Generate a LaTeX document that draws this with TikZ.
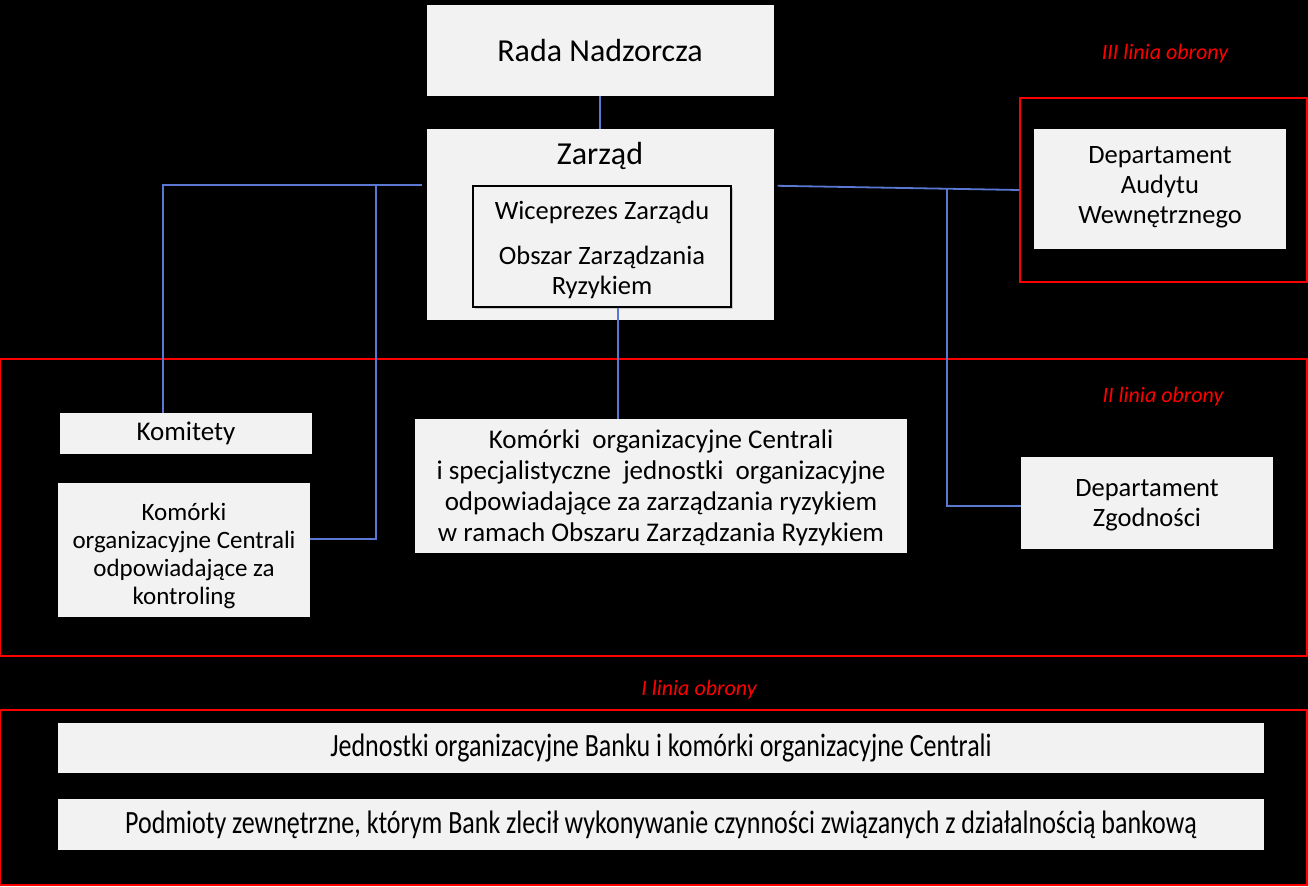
\documentclass[tikz,border=0pt]{standalone}
\usepackage{fontspec}
\setmainfont{Carlito}
\newfontfamily\condfont[FakeStretch=0.8]{Carlito}
\usetikzlibrary{calc,shadows}
\definecolor{boxgray}{HTML}{F2F2F2}
\definecolor{connblue}{HTML}{5A78D2}
\definecolor{framered}{HTML}{FF0000}
\newcommand\lowerblock[2]{\raisebox{-#1}[\height][\depth]{\begin{tabular}{@{}c@{}}#2\end{tabular}}}
\tikzset{
  box/.style={fill=boxgray, inner sep=0pt, align=center, text=black,
    font=\fontsize{26.5}{30}\selectfont},
  frame/.style={draw=framered, line width=1.3pt, inner sep=0pt},
  conn/.style={draw=connblue, line width=1.8pt},
  linelabel/.style={text=framered, font=\fontsize{22}{24}\selectfont\itshape, inner sep=0pt},
}
\begin{document}
\begin{tikzpicture}[x=1pt,y=-1pt]
\useasboundingbox (0,0) rectangle (1308,886);
\fill[black] (0,0) rectangle (1308,886);

% frames
\node[frame, minimum width=287, minimum height=184] (frame3) at (1163.5,190) {};
\node[frame, minimum width=1307, minimum height=297] (frame2) at (653.5,507.5) {};
\node[frame, minimum width=1307, minimum height=175] (frame1) at (653.5,797.5) {};

% labels
\node[linelabel] (l3) at (1165,54) {III linia obrony};
\node[linelabel] (l2) at (1163,397) {II linia obrony};
\node[linelabel] (l1) at (699,690) {I linia obrony};

% top boxes
\node[box, minimum width=347, minimum height=91, font=\fontsize{32}{36}\selectfont] (rada) at (600,50.5) {Rada Nadzorcza};
\node[box, minimum width=347, minimum height=191] (zarzad) at (600,224.5) {};
\node[inner sep=0pt, font=\fontsize{32}{36}\selectfont] (ztitle) at (600,156) {Zarząd};
\node[box, draw=black, line width=1.6pt, minimum width=258, minimum height=121,
  drop shadow={shadow xshift=2pt, shadow yshift=-2pt, opacity=0.35}] (vp) at (602,246.5)
  {\lowerblock{4pt}{Wiceprezes Zarządu\\[15pt]Obszar Zarządzania\\Ryzykiem}};

\node[box, minimum width=252, minimum height=120] (audit) at (1160,189)
  {\lowerblock{-2pt}{Departament\\Audytu\\Wewnętrznego}};

% II line boxes
\node[box, minimum width=252, minimum height=41, font=\fontsize{27}{30}\selectfont] (komitety) at (186,433.5) {Komitety};
\node[box, minimum width=252, minimum height=134, font=\fontsize{25}{28}\selectfont] (kontroling) at (184,550)
  {\lowerblock{7pt}{Komórki\\organizacyjne Centrali\\odpowiadające za\\kontroling}};
\node[box, minimum width=492, minimum height=134, font=\fontsize{27}{31}\selectfont] (central) at (661,486)
  {\lowerblock{3pt}{Komórki~ organizacyjne Centrali\\i specjalistyczne~ jednostki~ organizacyjne\\odpowiadające za zarządzania ryzykiem\\w ramach Obszaru Zarządzania Ryzykiem}};
\node[box, minimum width=252, minimum height=92] (zgodnosci) at (1147,503)
  {\lowerblock{2pt}{Departament\\Zgodności}};

% I line boxes
\node[box, minimum width=1206, minimum height=50, font=\fontsize{32.5}{34}\condfont] (jednostki) at (661,748)
  {Jednostki organizacyjne Banku i komórki organizacyjne Centrali};
\node[box, minimum width=1206, minimum height=51, font=\fontsize{32.5}{34}\condfont] (podmioty) at (661,824.5)
  {Podmioty zewnętrzne, którym Bank zlecił wykonywanie czynności związanych z działalnością bankową};

% connectors
\coordinate (zL) at ($(zarzad.north west)+(-4,56)$);
\coordinate (zR) at ($(zarzad.north east)+(4,57)$);
\coordinate (vL) at ($(zL)+(-46,0)$);
\coordinate (vR) at ($(zR)+(169,2)$);
\draw[conn] (rada.south) -- (zarzad.north);
\draw[conn] ([xshift=16pt]vp.south) -- ([xshift=16pt]vp.south |- central.north);
\draw[conn] (zL) -| ([xshift=-23pt]komitety.north);
\draw[conn] (vL) |- ([yshift=11pt]kontroling.east);
\draw[conn] (zR) -- (frame3.west);
\draw[conn] (vR) |- ([yshift=-3pt]zgodnosci.west);
\end{tikzpicture}
\end{document}
